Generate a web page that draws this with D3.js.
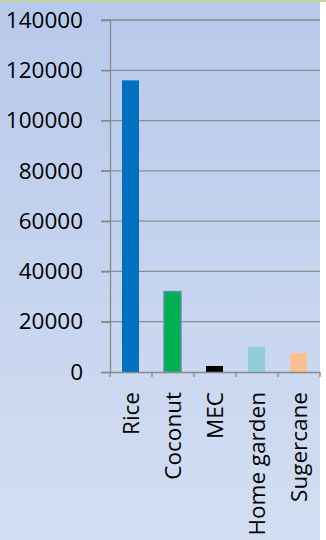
<!DOCTYPE html>
<html>
<head>
<meta charset="utf-8">
<script src="https://cdn.jsdelivr.net/npm/d3@7"></script>
<style>
  html, body { margin: 0; padding: 0; background: #fff; }
  svg { display: block; }
</style>
</head>
<body>
<div id="chart"></div>
<script>
// chart data
let categories = ["Rice", "Coconut", "MEC", "Home garden", "Sugercane"];
let values = [116000, 32000, 2400, 10000, 7500];
let barColors = ["#0070c0", "#00b050", "#000000", "#92cddc", "#fac090"];
let yTicks = [0, 20000, 40000, 60000, 80000, 100000, 120000, 140000];

let width = 326,
  height = 540;

let margin = { top: 20, right: 6, bottom: 168, left: 110 };

let svg = d3.select("#chart").append("svg")
  .attr("width", width)
  .attr("height", height);

// background gradient
let defs = svg.append("defs");
let grad = defs.append("linearGradient")
  .attr("id", "bg")
  .attr("x1", 0).attr("y1", 0).attr("x2", 0).attr("y2", 1);
grad.append("stop").attr("offset", "0%").attr("stop-color", "#b7c9eb");
grad.append("stop").attr("offset", "100%").attr("stop-color", "#d3def2");

svg.append("rect")
  .attr("x", 0).attr("y", 0)
  .attr("width", 320).attr("height", height)
  .attr("fill", "url(#bg)");

// thin top border
svg.append("rect")
  .attr("x", 0).attr("y", 0)
  .attr("width", width).attr("height", 2)
  .attr("fill", "#c3d69b");

let x = d3.scaleBand()
  .domain(categories)
  .range([margin.left, 320])
  .paddingInner(0)
  .paddingOuter(0);

let y = d3.scaleLinear()
  .domain([0, 140000])
  .range([height - margin.bottom, margin.top]);

let g = svg.append("g");

// gridlines
g.selectAll(".grid")
  .data(yTicks.filter(d => d > 0))
  .enter().append("line")
  .attr("class", "grid")
  .attr("x1", margin.left - 9)
  .attr("x2", 320)
  .attr("y1", d => y(d))
  .attr("y2", d => y(d))
  .attr("stroke", "#8c8c8c")
  .attr("stroke-width", 1.3);

// y axis
let yAxis = d3.axisLeft(y)
  .tickValues(yTicks)
  .tickSize(9)
  .tickPadding(18)
  .tickFormat(d3.format("d"));

let yg = g.append("g")
  .attr("transform", "translate(" + margin.left + ",0)")
  .call(yAxis);

yg.select(".domain").attr("stroke", "#888").attr("stroke-width", 1.3);
yg.selectAll(".tick line").attr("stroke", "#888").attr("stroke-width", 1.3);
yg.selectAll(".tick text")
  .attr("fill", "#000")
  .style("font-family", "'Open Sans', sans-serif")
  .style("font-size", "22.5px");

// bars
let bw = 17;
g.selectAll(".bar")
  .data(values)
  .enter().append("rect")
  .attr("class", "bar")
  .attr("x", (d, i) => x(categories[i]) + x.bandwidth() / 2 - bw / 2 - 0.5)
  .attr("y", d => y(d))
  .attr("width", bw)
  .attr("height", d => y(0) - y(d))
  .attr("fill", (d, i) => barColors[i])
  .attr("stroke", (d, i) => i === 1 ? "#5b8fb0" : "none")
  .attr("stroke-width", 1.5);

// x axis
let xAxis = d3.axisBottom(x)
  .tickSize(0)
  .tickPadding(0);

let xg = g.append("g")
  .attr("transform", "translate(0," + y(0) + ")")
  .call(xAxis);

xg.select(".domain").attr("stroke", "#888").attr("stroke-width", 1.3);

// category boundary ticks
let bounds = categories.map(c => x(c)).concat([320]);
xg.selectAll(".btick")
  .data(bounds)
  .enter().append("line")
  .attr("class", "btick")
  .attr("x1", d => d).attr("x2", d => d)
  .attr("y1", 0).attr("y2", 5)
  .attr("stroke", "#888")
  .attr("stroke-width", 1.3);

xg.selectAll(".tick text")
  .attr("fill", "#000")
  .style("font-family", "'Open Sans', sans-serif")
  .style("font-size", "22.5px")
  .attr("text-anchor", "end")
  .attr("transform", "translate(0,20) rotate(-90)")
  .attr("x", 0)
  .attr("y", 0)
  .attr("dy", "0.36em");
</script>
</body>
</html>
